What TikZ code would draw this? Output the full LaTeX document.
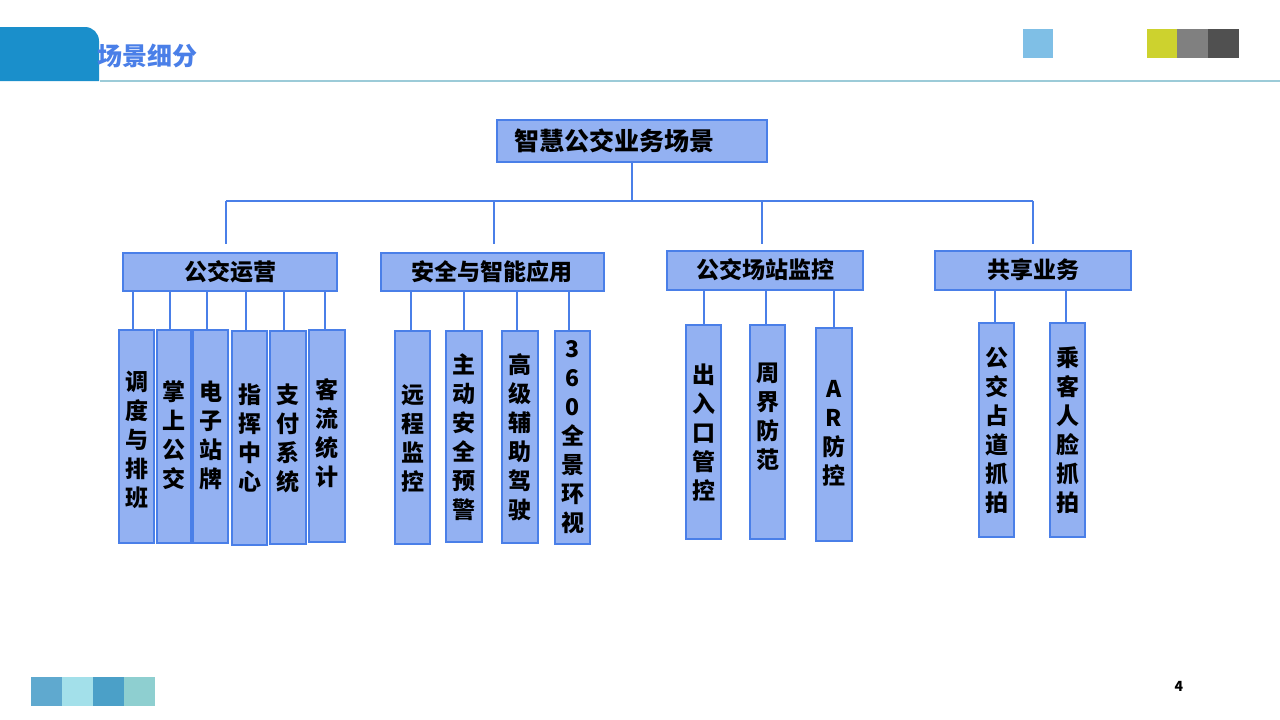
\documentclass[tikz,border=0pt]{standalone}
\usepackage{fontspec}
\setmainfont{Noto Sans CJK SC}[BoldFont={* Black}]
\begin{document}
\begin{tikzpicture}[x=1pt,y=-1pt,
 bx/.style={draw=lineC,fill=boxC,line width=1.2pt},
 ln/.style={draw=lineC,line width=1.2pt},
 lbl/.style={font=\bfseries\fontsize{23}{29}\selectfont,align=center,inner sep=0}]
\definecolor{boxC}{HTML}{93B1F2}
\definecolor{lineC}{HTML}{4A7FE8}
\useasboundingbox (0,0) rectangle (1280,720);
\fill[white] (0,0) rectangle (1280,720);
% header
\fill[fill={rgb,255:red,26;green,143;blue,203}] (0,81) -- (0,27) [rounded corners=14] -- (99,27) [sharp corners] -- (99,81) -- cycle;
\draw[line width=1.5pt,color={rgb,255:red,156;green,203;blue,216}] (100,81) -- (1280,81);
\node[anchor=west,font=\bfseries\fontsize{25}{28}\selectfont,text={rgb,255:red,74;green,127;blue,232},inner sep=0] (title) at (97,56) {场景细分};
\fill[color={rgb,255:red,127;green,191;blue,230}] (1023,29) rectangle (1053,58);
\fill[color={rgb,255:red,205;green,210;blue,46}] (1147,29) rectangle (1177,58);
\fill[color={rgb,255:red,128;green,128;blue,128}] (1177,29) rectangle (1208,58);
\fill[color={rgb,255:red,80;green,80;blue,80}] (1208,29) rectangle (1239,58);
\fill[color={rgb,255:red,95;green,169;blue,207}] (31,677) rectangle (62,706);
\fill[color={rgb,255:red,163;green,224;blue,234}] (62,677) rectangle (93,706);
\fill[color={rgb,255:red,75;green,160;blue,200}] (93,677) rectangle (124,706);
\fill[color={rgb,255:red,142;green,207;blue,208}] (124,677) rectangle (155,706);
\node[font=\bfseries\fontsize{14}{16}\selectfont,inner sep=0] (pg) at (1179,686) {4};
% root
\draw[bx] (497,120) rectangle (767,162);
\node[lbl,font=\bfseries\fontsize{25}{28}\selectfont] (root) at (614,141) {智慧公交业务场景};
\draw[ln] (632,162) -- (632,201);
\draw[ln] (226,201) -- (1033,201);
\foreach \x in {226,494,762,1033} \draw[ln] (\x,201) -- (\x,244);
% level 2
\draw[bx] (123,253) rectangle (337,291); \node[lbl] (a) at (230,272) {公交运营};
\draw[bx] (381,253) rectangle (604,291); \node[lbl] (b) at (492,272) {安全与智能应用};
\draw[bx] (667,251) rectangle (863,290); \node[lbl] (c) at (765,270) {公交场站监控};
\draw[bx] (935,251) rectangle (1131,290); \node[lbl] (d) at (1033,270) {共享业务};
% leaves
\foreach \cx/\xa/\xb/\ya/\yb/\t/\ty [count=\i] in {
133/119/154/330/543/调\\度\\与\\排\\班/440,
170/157/191/330/543/掌\\上\\公\\交/435,
207/193/228/330/543/电\\子\\站\\牌/435,
246/232/267/331/545/指\\挥\\中\\心/438,
284/270/306/331/544/支\\付\\系\\统/438,
325/309/345/330/542/客\\流\\统\\计/433,
411/395/430/331/544/远\\程\\监\\控/438,
464/446/482/331/542/主\\动\\安\\全\\预\\警/437,
517/502/538/331/543/高\\级\\辅\\助\\驾\\驶/437,
569/555/590/331/544/3\\6\\0\\全\\景\\环\\视/437,
704/686/721/325/539/出\\入\\口\\管\\控/433,
766/750/785/325/539/周\\界\\防\\范/417,
834/816/852/328/541/A\\R\\防\\控/433,
995/979/1014/323/537/公\\交\\占\\道\\抓\\拍/430,
1066/1050/1085/323/537/乘\\客\\人\\脸\\抓\\拍/430}{
 \draw[ln] (\cx,{\ifnum\i<11 291\else 290\fi}) -- (\cx,\ya);
 \draw[bx] (\xa,\ya) rectangle (\xb,\yb);
 \node[lbl] (leaf\i) at ({(\xa+\xb)/2},\ty) {\t};
}
\end{tikzpicture}
\end{document}
